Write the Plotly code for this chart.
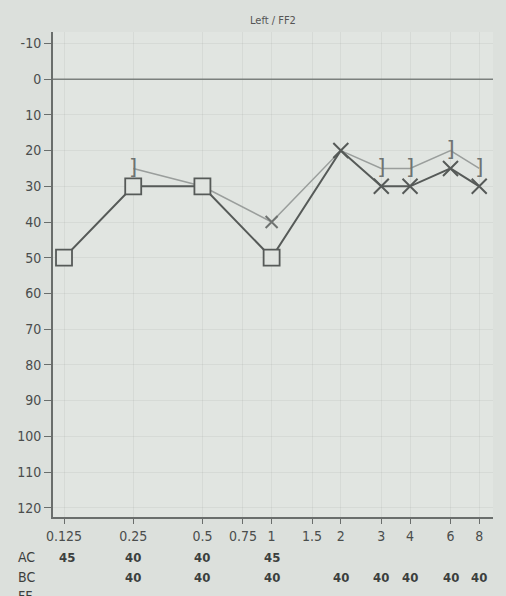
import math
import plotly.graph_objects as go

# Test frequencies (kHz) and tick labels
tick_freqs = [0.125, 0.25, 0.5, 0.75, 1, 1.5, 2, 3, 4, 6, 8]
tick_labels = ["0.125", "0.25", "0.5", "0.75", "1", "1.5", "2", "3", "4", "6", "8"]
db_ticks = [-10, 0, 10, 20, 30, 40, 50, 60, 70, 80, 90, 100, 110, 120]
db_labels = ["-10", "0", "10", "20", "30", "40", "50", "60", "70", "80", "90", "100", "110", "120"]

# Air conduction, masked (squares)
ac_masked_freq = [0.125, 0.25, 0.5, 1]
ac_masked_db = [50, 30, 30, 50]
# Air conduction, unmasked (crosses)
ac_freq = [2, 3, 4, 6, 8]
ac_db = [20, 30, 30, 25, 30]

# Bone conduction, masked (brackets) and its connecting line
bc_freq = [0.25, 0.5, 1, 2, 3, 4, 6, 8]
bc_db = [25, 30, 40, 20, 25, 25, 20, 25]
bc_bracket_freq = [0.25, 3, 4, 6, 8]
bc_bracket_db = [25, 25, 25, 20, 25]
# Unmasked air conduction shadow at 1 kHz
ac_shadow_freq = [1]
ac_shadow_db = [40]

# Masking levels table
ac_mask_freq = [0.125, 0.25, 0.5, 1]
ac_mask = [45, 40, 40, 45]
bc_mask_freq = [0.25, 0.5, 1, 2, 3, 4, 6, 8]
bc_mask = [40, 40, 40, 40, 40, 40, 40, 40]

FONT = "DejaVu Sans Condensed, Liberation Sans Narrow, sans-serif"
DARK = "#565a58"
LIGHT = "#9a9e9c"
TEXT = "#3c3f3e"

fig = go.Figure()

# Light bone-conduction line
fig.add_trace(go.Scatter(x=bc_freq, y=bc_db, mode="lines",
                         line=dict(color=LIGHT, width=1.5), hoverinfo="skip"))
# Dark air-conduction line
fig.add_trace(go.Scatter(x=ac_masked_freq + ac_freq, y=ac_masked_db + ac_db, mode="lines",
                         line=dict(color=DARK, width=2), hoverinfo="skip"))
# Brackets
fig.add_trace(go.Scatter(x=bc_bracket_freq, y=bc_bracket_db, mode="text",
                         text=["]"] * len(bc_bracket_freq),
                         textfont=dict(family="DejaVu Sans", size=21, color="#6f7371")))
# Shadow cross
fig.add_trace(go.Scatter(x=ac_shadow_freq, y=ac_shadow_db, mode="markers",
                         marker=dict(symbol="x-thin-open", size=12, color="#6f7371",
                                     line=dict(width=2, color="#6f7371"))))
# Squares
fig.add_trace(go.Scatter(x=ac_masked_freq, y=ac_masked_db, mode="markers",
                         marker=dict(symbol="square", size=16, color="#e0e4e0",
                                     line=dict(width=1.8, color=DARK))))
# Crosses
fig.add_trace(go.Scatter(x=ac_freq, y=ac_db, mode="markers",
                         marker=dict(symbol="x-thin-open", size=15, color=DARK,
                                     line=dict(width=2, color=DARK))))

# Reference lines: 0 dB and 1 kHz
fig.add_shape(type="line", xref="paper", x0=0, x1=1, yref="y", y0=0, y1=0,
              line=dict(color="#7c807e", width=1.5), layer="below")
fig.add_shape(type="line", xref="x", x0=0, x1=0, yref="paper", y0=0, y1=1,
              line=dict(color="#8e9290", width=1), layer="below")

annotations = [dict(text="Left / FF2", x=0.5, y=1, xref="paper", yref="paper",
                    yshift=20, showarrow=False,
                    font=dict(family=FONT, size=11, color="#555"))]

row_y = {"AC": -0.083, "BC": -0.124, "FF": -0.162}
for lab, yy in row_y.items():
    annotations.append(dict(text=lab, x=-0.083, y=yy, xref="paper", yref="paper",
                            xanchor="left", yanchor="middle", showarrow=False,
                            font=dict(family=FONT, size=14, color=TEXT)))
for f, v in zip(ac_mask_freq, ac_mask):
    annotations.append(dict(text=f"<b>{v}</b>", x=math.log10(f), y=row_y["AC"],
                            xref="x", yref="paper", yanchor="middle",
                            xshift=3 if f == 0.125 else 0, showarrow=False,
                            font=dict(family=FONT, size=13, color=TEXT)))
for f, v in zip(bc_mask_freq, bc_mask):
    annotations.append(dict(text=f"<b>{v}</b>", x=math.log10(f), y=row_y["BC"],
                            xref="x", yref="paper", yanchor="middle", showarrow=False,
                            font=dict(family=FONT, size=13, color=TEXT)))

fig.update_layout(
    width=506, height=596,
    margin=dict(l=53, r=13, t=32, b=79),
    paper_bgcolor="#dce0dc",
    plot_bgcolor="#e1e5e1",
    showlegend=False,
    annotations=annotations,
    xaxis=dict(type="log", range=[-0.951, 0.963], tickvals=tick_freqs, ticktext=tick_labels,
               showgrid=True, gridcolor="rgba(120,125,120,0.10)", gridwidth=1,
               showline=True, linecolor="#6a6e6c", linewidth=2,
               ticks="outside", ticklen=5, tickcolor="#6a6e6c",
               tickfont=dict(family=FONT, size=14, color="#4a4d4c"), zeroline=False),
    yaxis=dict(range=[122.6, -13.2], tickvals=db_ticks, ticktext=db_labels,
               showgrid=True, gridcolor="rgba(120,125,120,0.10)", gridwidth=1,
               showline=True, linecolor="#6a6e6c", linewidth=2,
               ticks="outside", ticklen=7, tickcolor="#6a6e6c",
               tickfont=dict(family=FONT, size=14, color="#4a4d4c"), zeroline=False),
)

fig.write_html("out.html")
